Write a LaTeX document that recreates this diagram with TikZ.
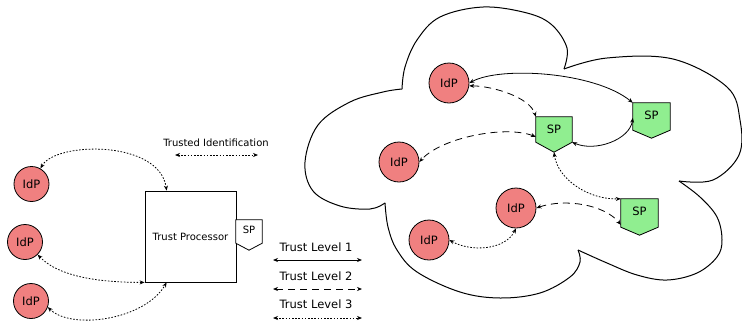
\documentclass[tikz,border=0pt]{standalone}
\usepackage{fontspec}
\setmainfont{DejaVu Sans}
\usetikzlibrary{arrows.meta}
\definecolor{idpred}{RGB}{240,128,128}
\definecolor{spgreen}{RGB}{144,238,144}
\tikzset{
  idp/.style={circle, draw, fill=idpred, line width=0.8pt, inner sep=0pt, font=\fontsize{11.5}{13}\selectfont},
  idpsmall/.style={idp, minimum size=35pt},
  idpbig/.style={idp, minimum size=40pt},
  spbase/.style={rectangle, inner sep=0pt},
  spline/.style={line width=0.8pt, line join=miter},
  sptext/.style={inner sep=0pt, font=\fontsize{11.5}{13}\selectfont},
  conn/.style={line width=0.8pt, {Stealth[length=5pt,width=4pt]}-{Stealth[length=5pt,width=4pt]}},
  lvlone/.style={conn},
  lvltwo/.style={conn, dash pattern=on 7pt off 5pt},
  lvlthree/.style={conn, dash pattern=on 1.6pt off 1.6pt},
  lbl/.style={inner sep=0pt},
  cloudline/.style={line width=1pt},
}
% #1 name, #2 position, #3 width, #4 height, #5 point height, #6 fill
\newcommand\mkSP[6]{%
  \node[spbase, minimum width=#3pt, minimum height=#4pt] (#1) at (#2) {};
  \draw[spline, fill=#6] (#1.north west) -- (#1.north east) -- ([yshift=#5pt]#1.south east) -- (#1.south) -- ([yshift=#5pt]#1.south west) -- cycle;
}
\begin{document}
\begin{tikzpicture}[x=1pt,y=-1pt]
\useasboundingbox (0,0) rectangle (742,322);

% cloud
\draw[cloudline] plot[smooth, tension=0.6] coordinates {(402,89) (405,67) (417,40) (440,17) (483,7) (527,13) (552,25) (567,48) (564,69)};
\draw[cloudline] plot[smooth, tension=0.6] coordinates {(564,69) (607,58) (673,59) (727,87) (740,120) (739,155) (713,180) (679,181)};
\draw[cloudline] plot[smooth, tension=0.6] coordinates {(679,181) (700,197) (717,217) (722,240) (717,257) (697,273) (667,280) (637,275) (607,263) (578,250)};
\draw[cloudline] plot[smooth, tension=0.6] coordinates {(578,250) (580,262) (570,277) (540,293) (500,298) (460,292) (417,272) (397,250) (388,227) (385,203)};
\draw[cloudline] plot[smooth, tension=0.6] coordinates {(385,203) (370,209) (340,206) (313,191) (305,162) (318,125) (350,102) (383,92) (402,89)};

% left side
\node[idpsmall] (l1) at (31.5,184) {IdP};
\node[idpsmall] (l2) at (25,242) {IdP};
\node[idpsmall] (l3) at (31,301) {IdP};
\node[draw, line width=0.8pt, minimum width=91pt, minimum height=91pt, inner sep=0pt, font=\fontsize{10}{12}\selectfont] (tp) at (190.5,236.5) {Trust Processor};
\mkSP{sps}{249,235}{26}{30}{7}{white}
\node[sptext, font=\fontsize{10}{12}\selectfont] (spst) at ([yshift=-10pt]sps.north) {SP};

\draw[lvlthree] (l1.60) .. controls +(15,-27) and +(-7,-51) .. ([xshift=22pt]tp.north west);
\draw[lvlthree] (l2.-45) .. controls +(22,23) and +(-42,0) .. (tp.south west);
\draw[lvlthree] (l3.-20) .. controls +(23,23) and +(-22,38) .. ([xshift=22pt]tp.south west);

% trusted identification
\node[lbl, font=\fontsize{10}{12}\selectfont] (tit) at (216,143) {Trusted Identification};
\coordinate (tia) at (175,155);
\coordinate (tib) at (258,155);
\draw[lvlthree] (tia) -- (tib);

% legend
\node[lbl, font=\fontsize{11.5}{13}\selectfont] (t1) at (316,247) {Trust Level 1};
\coordinate (a1) at (273,260); \coordinate (b1) at (362,260);
\draw[lvlone] (a1) -- (b1);
\node[lbl, font=\fontsize{11.5}{13}\selectfont] (t2) at (316,276) {Trust Level 2};
\coordinate (a2) at (273,289); \coordinate (b2) at (362,289);
\draw[lvltwo] (a2) -- (b2);
\node[lbl, font=\fontsize{11.5}{13}\selectfont] (t3) at (316,304) {Trust Level 3};
\coordinate (a3) at (273,318); \coordinate (b3) at (362,318);
\draw[lvlthree] (a3) -- (b3);

% right side nodes
\node[idpbig] (idpA) at (449,83) {IdP};
\node[idpbig] (idpB) at (399,162) {IdP};
\node[idpbig] (idpC) at (516,208) {IdP};
\node[idpbig] (idpD) at (429,240) {IdP};
\mkSP{spA}{554,134.5}{36}{35}{10}{spgreen}
\node[sptext] (spAt) at ([yshift=-13pt]spA.north) {SP};
\mkSP{spB}{651.5,120.5}{37}{35}{8}{spgreen}
\node[sptext] (spBt) at ([yshift=-12.5pt]spB.north) {SP};
\mkSP{spC}{639.5,217}{37}{36}{8}{spgreen}
\node[sptext] (spCt) at ([yshift=-12.5pt]spC.north) {SP};

% right side connectors
\draw[lvlone] (idpA.east) .. controls +(31,-17) and +(-38,-31) .. (spB.north west);
\draw[lvltwo] (idpA.-8) .. controls +(22,0) and +(-6,-20) .. (spA.north west);
\draw[lvltwo] ([yshift=-20pt]spA.north west) .. controls +(-31,-12) and +(21,-24) .. (idpB.east);
\draw[lvlone] ([yshift=10pt]spA.south east) .. controls +(23,10) and +(-3,22) .. ([yshift=-15pt]spB.north west);
\draw[lvlthree] (spA.south) .. controls +(4,28) and +(-31,1) .. (spC.north west);
\draw[lvltwo] (idpC.east) .. controls +(29,-10) and +(-16,-20) .. ([yshift=-26pt]spC.north west);
\draw[lvlthree] (idpD.east) .. controls +(21,12) and +(-11,22) .. (idpC.south);
\end{tikzpicture}
\end{document}
